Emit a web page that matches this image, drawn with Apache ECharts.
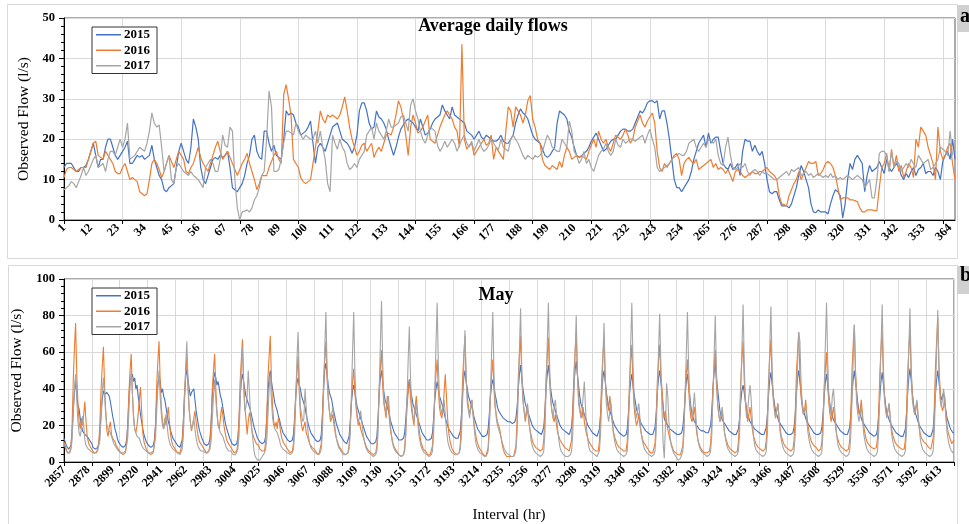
<!DOCTYPE html>
<html><head><meta charset="utf-8">
<script src="https://cdn.jsdelivr.net/npm/echarts@6/dist/echarts.min.js"></script>
<style>html,body{margin:0;padding:0;background:#fff}#c{width:969px;height:524px}</style>
</head><body><div id="c"></div>
<script>
const dayCategories = []; for (let d = 1; d <= 366; d++) dayCategories.push(String(d));
const hourCategories = []; for (let h = 2857; h <= 3625; h++) hourCategories.push(String(h));
const seriesNames = ['2015', '2016', '2017'];
const seriesColors = ['#4472C4', '#ED7D31', '#A5A5A5'];

const flow2015 = [
13,14,14,14,13,12,12,13,13,13.5,
15,17,19,16,13,15,15,18,20,20,
18,16,15,16,17,18,19.5,14,14,15,
16,15.5,16,15,15.5,16,18.5,15,13,11,
10,7.5,7,8,8.5,9,13,17,19,17,
15,14,18,25,23,20,13,10,9,11,
13,15,15.5,15,16,15.5,16,17,13,8,
7.5,7,8,9,11,14,16,20,21,17,
15.5,15,22,22,19,17,18.5,16,15.5,15,
20,27,26,26.5,26,24,23,21,21.5,22,
23,24.5,19,14,18,19,18,17,19,21,
23,23.5,24,22,20,19.5,19,18,16.5,18,
21,27,29,29,27,24,22.5,23,27,25.5,
25,24,22.5,20,18,16,18,20.5,22.5,23.5,
24.5,25,24.5,24,23,22,25,23,21,21.5,
22.5,24,25,25.5,26,28.5,27,26,25,28,
26,25.5,25,24.5,24,22,21.5,21,20,21,
22,20.5,20,21,20.5,20,19.5,19.5,20,21,
19.5,19,19,20,21,24,26,27.5,26.5,26,
25,23,21,20,19.5,19,17.5,16,15.5,16,
17,18,24,27,26.5,26,25,22,20.5,18,
16,15.5,15.8,16.5,17,18,19.5,20.5,21.5,20,
18.5,17,17.5,18.5,19.5,20,20,21,22,22.5,
22.5,22,22,22.5,24,25.5,27,26.5,27.5,29,
29.5,29.5,29,29.5,25,27,27,24,20,15,
10,8,8,7,8,9,10,12,15,17,
19,20,21,18,21.5,19,20,20.5,20.5,17,
14,13,12.5,14,12.5,13,14,11,17,20,
19.5,19.5,17,18.5,17,16,17,14,10,7,
6.5,7,7,5,3.5,3.5,3.5,3,4,6,
8,11,13.5,12,10,8,4,2,1.8,2.5,
2,2,2,1.5,4,6,7.5,7,6,0.5,
4,10,14,12.5,15,16,15,14,7,11,
13.5,12,12.5,13,14.5,13,11.5,15,13,12,
13,14,13,11,10,11.5,10.5,12,13,11,
12.5,13,14,11.5,12,12,11,13,12,10,
14.5,16,17,15,20,15
];
const flow2016 = [
10.5,12.5,13,13,12.5,12,12.5,13,13,13,
15,17,19,19.5,16,15.5,15,17,16,15,
14,12,11.5,11.5,13,14,12,10,10.5,10,
9.5,7,6.5,6,6.5,10,14,15,14,12.5,
10.5,12,14,16,14.5,13,15,17,16,15,
12,11.5,13,14,16,18,15.5,14,13,12,
14,16,18,19.5,17,15,16,17,15.5,14,
12.5,11,12.5,14,15,16.5,14,12,10,7.5,
9,11,11,11,13,14.5,16,17,15,14,
31,33.5,30,26,15,14,13,10.5,9.5,9,
9.5,10,14,18,22,27,25,24,26,25.5,
26,25.5,25,26,28,30.5,27,23,20,18,
16,17,18.5,19,17,18,19,15.5,17,18,
17,19,21,21.5,21,23,26,29.5,28,25,
21,16,23,26,24,21.5,22,23,24.5,26,
20,19.5,19,21,23,24.5,26,27,26,25,
23,22,18,43.5,20,17.5,18.5,19,16,17,
18,19,20,18.5,19,21,15,18,17,16,
15,22,28,27,23,28,27,26,24,26,
29.5,30.8,25,23,20,19,15,13.5,13,12.5,
13.5,13,12.5,14.5,13,16,18,17,15,15.5,
16,15.5,16,15.5,15,17,18.5,20,18,22,
20,19,20,18,17,19,21,20.5,20,21,
22.5,21,19,20,23,24.5,26,24,23,24.5,
25.5,26.5,24,17,13,12,14,13,14,15,
16,16.5,15,11,14,15,15.5,14.5,14,15,
12.5,13,13.5,14,14.5,15,13,14,12.5,13,
12.5,11.5,12.5,11,9.5,12,12.5,12,11,10.5,
11,11.5,12,11.5,11.5,12,12,12.5,13,12,
11.5,11,10,6,4,3.8,3.5,6,7.5,9,
10,12,10,11.5,13,14.5,14,14,14.5,11,
11.5,12.5,14,14.5,14,13,11,8,5,5.5,
5.5,5.5,5,5,4.8,4.5,3,2,2,2.5,
2.5,2.5,2.3,2.3,8,13,14,16.5,12,17.5,
13,16,12,13.5,10.5,12,14,13,10.5,20,
18,23,22,21,18,16,14,10,23,17,
15,16,18,19,14,10
];
const flow2017 = [
7.5,8,8.5,9.5,9,8,9.5,11,13,11,
12,13.5,15,16,13,13.5,14,12,15,17,
17,16,18,20,18,20,24,15,15.5,16,
17,18,17.5,17,19,22,26.5,24,23,23.5,
18,12,14,16,10,9,13,14,13,12,
11.5,11,12,11,10.5,10,9,8,13,14,
15,14,12,12,15,21,18.5,18,23,22,
10,3,0,2,2.2,2.5,2,3,5,6,
8,11,12,20,32,28,12,12,12.5,15,
19,22,22,21.5,21,24,22,21,20,21,
20.5,20,20,22,19,22,18,15,9,7,
21,19,17.5,20,18,17,14,12.5,13,14,
13,15,16,17,21,22,23,20,24,22,
21,20,22,25,23,23,23.5,24,25.5,26,
24,22,28.5,30,27,25,22,20,19,21,
23,22.5,22,18.5,17,18,19.5,18,19,20,
19,17,18.5,20,21,19,18,19.5,17,18.5,
20,18,17,17.5,18.5,20,19,18,17.5,20,
18,17.5,17,20,21,20,19,17.5,16,15,
16,15.5,15,16,15.5,16,17,19,21,20,
18,17.5,17,17,20,19,18,24.5,22,17,
16,14,15,17,14,15,13,12,14,16,
17,17.5,19,17,16,17,20,18.5,18,20,
19,19.5,20,20,19.5,20,20.5,21,19,21,
22.5,20,18,13,12,12.5,13,13.5,14,15,
15.5,16,16.5,16,16,17,19,19.5,20,18,
17,18,19,18,20,19.5,19,20,16,14,
13.5,18,20.5,16,13,12.5,13,14,13,14,
12,11,12,12.5,12,11,12,11.5,11.5,11,
10.5,10,10,10.5,11,11.5,12,11,12.5,12,
12.5,13,11,11.5,12,11,11.5,10.5,11,11.5,
11,10.5,11,10.5,11.5,10.5,11,10,10.5,10,
10.5,11,10.5,10,10.5,11,10.5,10,8,9,
10,5.5,5.5,10,16.5,17,17,16,12,17,
13,14.5,14,12,13,14,13,15,14,13,
16,15,14,14.5,15,12.5,13,14,15,18,
17.5,17,16,22,16
];

const may2015 = [
13,11,9,8,7,7,9,16,28,38,45,37,31,29,24,20,17,16,15,15,14,13,12,11,
10,8,7,7,7,8,10,16,26,34,39,37,36,38,37,36,33,29,25,22,18,16,13,11,
10,9,8,8,8,9,12,20,34,44,46,48,44,46,40,42,36,31,26,22,18,15,13,11,
10,9,8,8,8,9,12,20,34,42,47,44,38,40,36,34,30,26,22,20,17,15,13,12,
11,10,9,8,8,9,12,22,36,46,51,45,40,36,38,37,40,34,28,24,20,17,15,13,
12,10,9,9,9,10,13,22,36,45,49,46,42,44,40,36,34,30,26,22,19,17,15,13,
12,10,9,9,9,10,13,22,36,44,48,44,40,36,34,33,30,28,25,22,19,17,15,13,
12,11,10,10,10,11,14,24,38,46,50,44,40,36,32,30,28,25,23,20,18,16,15,14,
13,12,11,11,11,12,15,24,36,43,46,42,40,36,34,32,30,26,23,20,18,16,15,14,
13,12,11,11,11,12,15,26,40,50,54,48,42,38,36,34,30,27,24,21,19,17,15,14,
13,12,11,10,10,11,14,22,32,39,42,38,34,30,28,26,24,22,20,18,16,14,13,12,
11,10,10,10,10,11,14,24,38,46,50,44,38,34,32,30,28,25,22,20,18,16,15,14,
13,12,12,12,12,13,16,24,34,41,45,40,36,32,30,28,26,24,22,20,18,16,15,14,
13,12,12,12,12,13,16,24,34,40,44,40,36,34,32,30,27,24,22,20,18,17,16,15,
14,13,13,13,13,14,17,26,38,46,50,44,40,36,34,32,30,27,24,22,20,18,17,16,
15,14,14,14,14,15,18,26,36,42,45,41,37,34,30,28,27,26,25,24,23,23,22,22,
22,22,22,21,21,22,24,30,40,48,53,46,40,36,32,30,28,26,24,22,20,19,18,17,
17,16,16,15,15,16,19,28,40,48,53,46,40,35,32,30,28,26,24,22,20,19,18,17,
17,16,16,15,15,16,19,28,42,50,55,48,42,36,32,30,28,26,24,22,20,19,18,17,
16,15,15,14,14,15,18,26,38,46,50,44,38,34,30,28,26,24,22,20,19,18,17,16,
16,15,15,14,14,15,18,26,37,44,48,42,37,33,29,27,25,23,21,20,19,18,17,16,
16,15,15,15,15,16,19,26,38,46,50,44,38,30,24,22,21,20,19,18,17,17,16,16,
16,15,15,15,15,16,19,26,36,44,48,42,36,30,26,24,22,21,20,19,18,18,17,17,
17,16,16,16,16,17,20,28,40,49,54,46,40,34,28,25,23,22,21,20,19,18,17,17,
16,15,15,15,15,16,18,24,33,39,42,38,33,29,26,24,22,21,20,19,18,17,17,16,
16,15,15,15,15,16,19,26,37,45,49,43,37,32,28,26,24,22,21,20,19,18,17,16,
16,15,15,15,15,16,19,26,38,46,50,44,38,32,28,26,24,22,21,20,19,18,17,16,
16,15,15,15,15,16,19,26,36,44,48,42,36,31,27,25,23,22,21,20,19,18,17,16,
16,15,15,15,15,16,19,26,37,45,50,44,38,32,28,26,24,22,21,20,19,18,17,16,
16,15,15,14,14,15,18,25,36,44,49,43,37,31,27,25,23,22,20,19,18,17,16,15,
15,14,14,14,14,15,18,26,38,46,51,45,38,32,28,26,24,22,20,19,18,17,16,15,
15,14,14,14,14,15,18,26,37,45,50,44,38,34,36,38,32,28,24,22,20,18,17,16,
16
];
const may2016 = [
11,9,7,5,4,5,8,20,45,62,76,48,32,22,18,24,20,26,33,22,14,11,9,8,
7,6,5,5,5,6,10,22,40,52,63,42,28,17,14,19,22,15,13,12,11,9,8,7,
6,5,5,4,4,5,9,20,38,50,59,38,24,18,16,20,26,34,41,28,16,11,9,7,
6,5,4,4,4,5,9,21,42,55,66,44,30,22,18,24,20,25,30,22,15,11,9,8,
7,6,5,5,5,6,10,22,38,49,58,40,28,22,17,20,24,28,22,17,13,11,10,9,
8,7,6,5,5,6,10,22,40,50,59,40,28,20,18,24,30,26,20,16,13,11,10,9,
8,7,6,5,5,6,10,23,44,56,67,45,30,24,15,22,27,24,18,15,13,12,10,9,
9,7,6,6,5,6,11,25,46,58,69,45,30,22,19,22,18,24,21,16,13,11,10,9,
8,7,6,5,5,6,10,22,38,48,58,38,26,20,17,18,22,16,14,12,10,9,8,7,
7,6,5,5,4,5,10,24,44,56,66,45,36,28,22,24,26,20,16,13,11,9,8,7,
6,5,5,4,4,5,9,20,34,44,51,38,30,24,20,22,18,16,14,12,10,8,7,6,
6,5,4,4,4,5,9,22,40,52,61,42,32,28,24,36,30,22,16,13,10,8,7,6,
5,4,4,3,3,4,8,18,30,38,45,35,28,24,20,30,36,28,20,15,11,9,7,6,
6,5,4,4,4,5,9,22,38,48,56,40,30,26,24,28,38,48,36,24,16,12,9,7,
6,5,5,4,4,5,10,25,46,58,69,46,36,30,26,30,34,26,20,16,12,10,8,7,
6,5,4,4,3,4,8,20,38,48,56,40,30,26,22,20,18,14,10,7,5,4,3,3,
3,3,3,3,3,4,9,24,46,58,69,46,34,28,22,26,30,22,18,15,12,10,9,8,
8,7,6,6,6,7,12,26,46,58,68,46,34,28,24,22,26,20,16,14,12,11,10,9,
8,7,7,6,6,7,12,27,48,60,71,48,36,30,26,24,30,22,18,15,13,11,10,9,
8,7,6,6,5,6,11,25,46,58,68,46,36,32,28,36,30,22,17,14,12,10,9,8,
8,7,6,6,5,6,11,24,44,55,64,42,30,24,20,22,26,20,16,13,11,10,9,8,
7,6,5,5,5,6,10,24,44,55,64,48,40,30,24,28,22,18,15,12,10,8,6,5,
5,4,4,4,4,5,9,20,38,48,56,40,30,24,22,26,30,22,16,12,10,8,7,6,
6,5,5,5,5,6,10,22,40,52,61,42,32,26,22,24,28,22,16,13,11,9,8,7,
7,6,5,5,5,6,11,24,44,56,66,44,34,28,22,26,30,24,18,14,12,10,9,8,
8,7,6,6,6,7,12,25,45,57,67,46,36,30,24,28,32,24,18,14,12,10,9,8,
8,7,7,6,6,7,12,26,48,60,71,48,36,30,26,28,34,26,20,16,13,11,10,9,
9,8,7,6,6,7,11,24,40,51,60,42,32,26,22,26,30,24,18,14,12,10,9,8,
8,7,6,6,6,7,12,28,50,64,75,50,38,30,26,28,34,26,20,16,13,11,10,9,
9,8,7,7,7,8,13,28,48,62,72,48,36,30,25,28,32,24,19,15,13,11,10,9,
9,8,7,7,6,7,12,27,48,61,72,50,38,30,26,28,33,25,19,15,13,12,11,10,
10,9,8,7,7,8,13,30,52,66,79,52,40,32,28,30,36,26,20,16,14,12,10,9,
12
];
const may2017 = [
10,8,6,5,5,6,7,12,28,40,48,34,22,16,14,18,25,20,12,9,8,7,6,6,
6,5,5,5,5,6,7,12,26,38,46,36,26,20,18,17,16,15,12,10,9,8,7,6,
6,5,5,5,5,6,7,13,28,42,50,38,26,18,16,14,15,13,11,9,8,7,6,6,
6,5,5,5,5,6,7,13,28,42,50,36,26,20,18,22,26,20,14,11,9,8,7,6,
6,5,5,4,4,5,7,14,32,52,66,44,30,22,18,20,24,18,13,10,8,7,6,6,
6,5,5,5,5,6,7,12,24,36,45,34,26,20,18,16,15,14,12,10,8,7,6,6,
6,5,4,4,4,5,7,14,32,50,63,42,28,30,36,50,38,26,18,12,6,3,2,1,
1,1,2,3,4,5,7,12,26,40,48,34,24,20,18,17,16,14,12,9,8,7,6,6,
6,5,5,4,4,5,7,15,34,56,71,46,30,26,22,24,40,30,20,14,10,8,7,6,
6,5,5,4,4,5,7,16,38,62,82,52,34,28,24,26,30,24,18,13,10,8,7,6,
5,4,4,4,4,5,7,15,36,60,82,50,32,26,22,24,28,22,16,12,9,7,6,5,
5,4,4,3,3,4,6,16,40,64,88,54,34,30,26,32,36,26,18,12,9,7,6,5,
5,4,4,3,3,4,6,15,34,56,74,46,32,26,22,28,32,24,16,12,9,7,6,5,
5,4,4,3,3,4,6,16,40,64,87,54,34,30,26,30,34,26,18,12,9,7,6,5,
5,4,4,4,4,5,7,15,34,54,72,46,32,28,24,30,34,26,18,12,9,7,6,5,
5,4,4,3,3,4,6,16,38,60,82,50,32,24,20,18,16,14,11,9,7,6,5,4,
4,3,3,3,3,4,6,16,38,62,84,52,34,28,24,28,32,24,18,12,9,7,6,5,
5,4,4,3,3,4,6,16,40,64,87,54,34,28,24,30,34,26,18,12,8,6,5,4,
4,3,3,3,3,4,6,15,36,58,80,50,32,28,24,28,36,44,30,18,12,8,6,5,
5,4,4,3,3,4,6,15,34,56,76,48,32,26,22,28,32,24,16,12,9,7,6,5,
5,4,4,3,3,4,6,16,40,64,87,54,34,28,24,28,32,24,16,12,9,7,6,5,
5,4,4,3,3,4,6,16,38,60,81,55,30,10,2,20,43,36,22,14,9,7,5,4,
3,2,1,1,2,3,6,16,38,60,82,52,34,28,24,30,38,28,18,12,9,7,6,5,
5,4,4,3,3,4,6,15,36,58,80,50,32,26,22,26,30,22,16,12,9,7,6,5,
5,4,4,3,3,4,6,16,40,62,86,54,32,24,28,36,42,34,22,14,9,7,6,5,
5,4,4,3,3,4,6,16,40,62,85,54,34,28,24,28,32,24,16,12,9,7,6,5,
5,4,4,3,3,4,6,15,34,54,71,66,44,32,26,28,30,22,16,12,9,7,6,5,
5,4,4,3,3,4,6,16,40,64,87,56,36,30,26,36,40,30,20,13,9,7,6,5,
5,4,4,3,3,4,6,15,34,56,75,48,32,26,22,26,30,24,16,12,9,7,6,5,
5,4,4,3,3,4,6,16,40,62,86,54,34,28,24,28,32,24,16,12,9,7,6,5,
5,4,4,3,3,4,6,16,38,62,84,54,34,30,26,30,34,26,18,12,9,7,6,5,
5,4,4,3,3,4,6,16,38,60,83,52,34,30,34,40,34,24,16,12,9,7,6,5,
6
];

const SERIF = '"Liberation Serif", "DejaVu Serif", serif';
const chart = echarts.init(document.getElementById('c'), null, {renderer: 'canvas'});

function xAxisCfg(grid, cats, labelInterval, extra) {
  return Object.assign({
    type: 'category', gridIndex: grid, data: cats, boundaryGap: false,
    axisLine: {show: true, lineStyle: {color: '#000', width: 1}},
    axisTick: {show: true, interval: 23, length: 4, lineStyle: {color: '#000'}},
    axisLabel: {interval: labelInterval, rotate: 45, fontFamily: SERIF, fontWeight: 'bold', fontSize: 12, color: '#000', margin: 6},
    splitLine: {show: true, interval: 23, lineStyle: {color: '#d9d9d9', width: 1}}
  }, extra || {});
}
function yAxisCfg(grid, max, interval) {
  return {
    type: 'value', gridIndex: grid, min: 0, max: max, interval: interval,
    name: 'Observed Flow (l/s)', nameLocation: 'middle', nameGap: 31,
    nameTextStyle: {fontFamily: SERIF, fontSize: 15.5, color: '#000'},
    axisLine: {show: true, lineStyle: {color: '#000', width: 1}},
    axisTick: {show: true, length: 5, lineStyle: {color: '#000'}},
    minorTick: {show: true, splitNumber: 5, length: 3, lineStyle: {color: '#000'}},
    axisLabel: {fontFamily: SERIF, fontWeight: 'bold', fontSize: 12.5, color: '#000', margin: 9},
    splitLine: {show: true, lineStyle: {color: '#d9d9d9', width: 1}}
  };
}
function legendCfg(top) {
  return {
    left: 92, top: top, orient: 'vertical', data: seriesNames,
    icon: 'rect', itemWidth: 25, itemHeight: 1.5, itemGap: 2,
    padding: [1, 7, 1, 4], borderColor: '#333', borderWidth: 1, backgroundColor: '#fff',
    textStyle: {fontFamily: SERIF, fontWeight: 'bold', fontSize: 13, lineHeight: 13.5, color: '#000', padding: [0, 0, 0, -2]}
  };
}
const daySeries = [flow2015, flow2016, flow2017];
const hourSeries = [may2015, may2016, may2017];
const series = [];
daySeries.forEach((d, i) => series.push({
  name: seriesNames[i], type: 'line', xAxisIndex: 0, yAxisIndex: 0, data: d,
  symbol: 'none', color: seriesColors[i], lineStyle: {width: 1.2, color: seriesColors[i]}, z: 3 + i
}));
hourSeries.forEach((d, i) => series.push({
  name: seriesNames[i], type: 'line', xAxisIndex: 1, yAxisIndex: 1, data: d,
  symbol: 'none', color: seriesColors[i], lineStyle: {width: 1.1, color: seriesColors[i]}, z: 3 + i
}));

chart.setOption({
  animation: false,
  backgroundColor: '#fff',
  grid: [
    {left: 64, right: 14, top: 18, height: 202, show: true, borderColor: '#595959', borderWidth: 1, backgroundColor: 'transparent'},
    {left: 64, right: 15, top: 279, height: 183, show: true, borderColor: '#595959', borderWidth: 1, backgroundColor: 'transparent'}
  ],
  xAxis: [
    xAxisCfg(0, dayCategories, 10),
    xAxisCfg(1, hourCategories, 20, {name: 'Interval (hr)', nameLocation: 'middle', nameGap: 46,
      nameTextStyle: {fontFamily: SERIF, fontSize: 15, color: '#000'}})
  ],
  yAxis: [yAxisCfg(0, 50, 10), yAxisCfg(1, 100, 20)],
  legend: [legendCfg(27), legendCfg(288)],
  series: series,
  graphic: [
    {type: 'rect', z: -10, shape: {x: 7.5, y: 4.5, width: 950, height: 254}, style: {fill: null, stroke: '#d9d9d9', lineWidth: 1}},
    {type: 'rect', z: -10, shape: {x: 8.5, y: 265.5, width: 949, height: 270}, style: {fill: null, stroke: '#d9d9d9', lineWidth: 1}},
    {type: 'rect', z: 10, shape: {x: 957, y: 5, width: 14, height: 27}, style: {fill: '#d0d0d0'}},
    {type: 'text', z: 11, x: 960, y: 7, style: {text: 'a', font: 'bold 20px ' + SERIF, fill: '#000'}},
    {type: 'rect', z: 10, shape: {x: 957, y: 266, width: 14, height: 28}, style: {fill: '#d0d0d0'}},
    {type: 'text', z: 11, x: 960, y: 266, style: {text: 'b', font: 'bold 20px ' + SERIF, fill: '#000'}},
    {type: 'text', z: 11, x: 493, y: 26, style: {text: 'Average daily flows', font: 'bold 18px ' + SERIF, fill: '#000', textAlign: 'center', textVerticalAlign: 'middle'}},
    {type: 'text', z: 11, x: 496, y: 295, style: {text: 'May', font: 'bold 18px ' + SERIF, fill: '#000', textAlign: 'center', textVerticalAlign: 'middle'}}
  ]
});
</script>
</body></html>
